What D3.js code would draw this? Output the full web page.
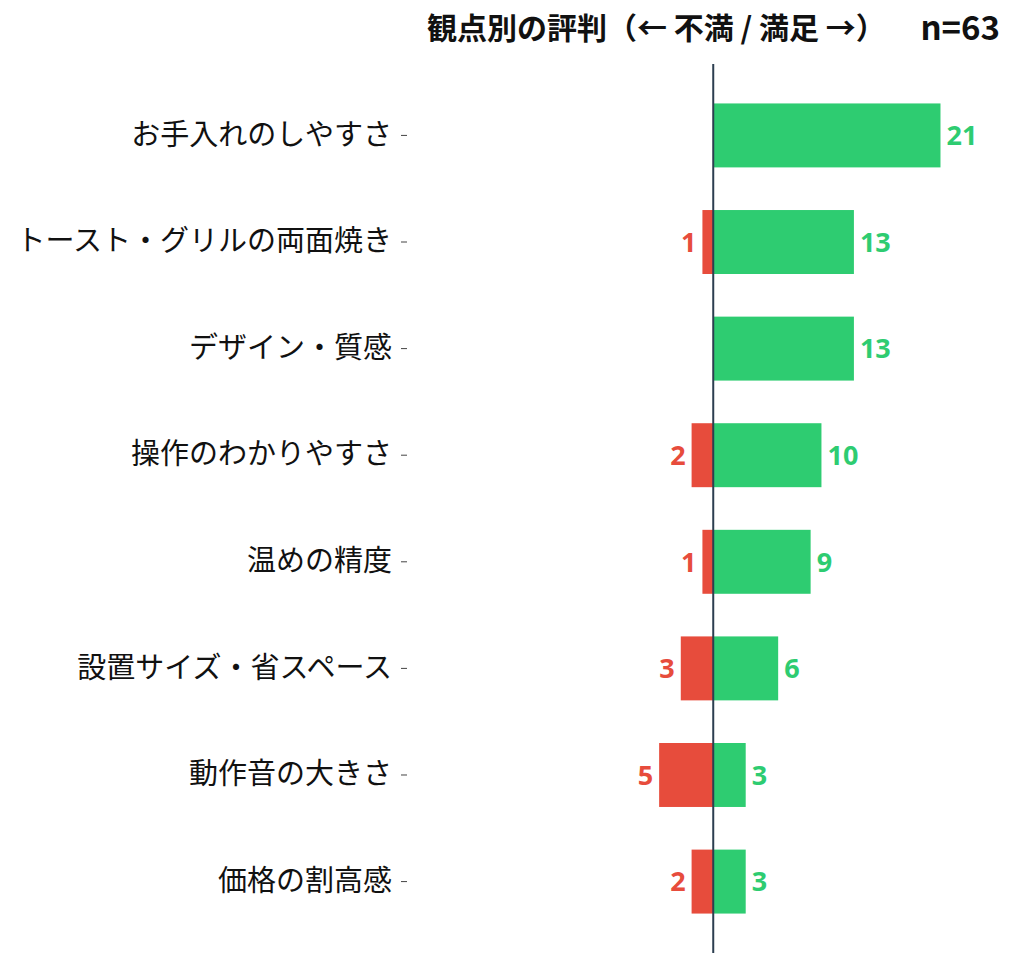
<!DOCTYPE html>
<html>
<head>
<meta charset="utf-8">
<script src="https://cdn.jsdelivr.net/npm/d3@7"></script>
<style>
  body { margin: 0; background: #fff; }
  svg { display: block; }
  .axis.y text { font-family: "Noto Sans CJK JP", sans-serif; font-size: 29px; fill: #111; }
  .axis.y line { stroke: #444; }
  .axis.y .domain { display: none; }
  .value { font-family: "Noto Sans", "DejaVu Sans", sans-serif; font-weight: 700; font-size: 27px; }
  .title { font-family: "Noto Sans CJK JP", sans-serif; font-weight: 700; font-size: 30px; fill: #111; }
</style>
</head>
<body>
<svg id="chart"></svg>
<script>
var aspects = ['お手入れのしやすさ', 'トースト・グリルの両面焼き', 'デザイン・質感', '操作のわかりやすさ',
  '温めの精度', '設置サイズ・省スペース', '動作音の大きさ', '価格の割高感'];
var satisfied = [21, 13, 13, 10, 9, 6, 3, 3];
var dissatisfied = [0, 1, 0, 2, 1, 3, 5, 2];
var titleText = '観点別の評判（← 不満 / 満足 →）';
var sampleText = 'n=63';

document.addEventListener('DOMContentLoaded', () => {
  var size = { width: 1035, height: 969, margin: { top: 64, right: 35, bottom: 16, left: 407 } };
  var margin = size.margin;
  var width = size.width - margin.left - margin.right;
  var height = size.height - margin.top - margin.bottom;

  var data = aspects.map((a, i) => ({ aspect: a, pos: satisfied[i], neg: dissatisfied[i] }));

  var x = d3.scaleLinear()
    .domain([-28.3, 26.5])
    .range([0, width]);

  var y = d3.scaleBand()
    .domain(aspects)
    .range([0, height])
    .paddingInner(0.4)
    .paddingOuter(0.37);

  var svg = d3.select('#chart')
    .attr('width', size.width)
    .attr('height', size.height);

  var chart = svg.append('g')
    .attr('transform', `translate(${ margin.left }, ${ margin.top })`);

  chart.selectAll('.bar.positive')
    .data(data)
    .enter().append('rect')
      .attr('class', 'bar positive')
      .attr('x', x(0))
      .attr('y', d => y(d.aspect))
      .attr('width', d => x(d.pos) - x(0))
      .attr('height', y.bandwidth())
      .attr('fill', '#2ecc71');

  chart.selectAll('.bar.negative')
    .data(data.filter(d => d.neg > 0))
    .enter().append('rect')
      .attr('class', 'bar negative')
      .attr('x', d => x(-d.neg))
      .attr('y', d => y(d.aspect))
      .attr('width', d => x(0) - x(-d.neg))
      .attr('height', y.bandwidth())
      .attr('fill', '#e74c3c');

  chart.selectAll('.value.positive')
    .data(data)
    .enter().append('text')
      .attr('class', 'value positive')
      .attr('x', d => x(d.pos) + 6)
      .attr('y', d => y(d.aspect) + y.bandwidth() / 2)
      .attr('dy', '0.36em')
      .attr('fill', '#2ecc71')
      .text(d => d.pos);

  chart.selectAll('.value.negative')
    .data(data.filter(d => d.neg > 0))
    .enter().append('text')
      .attr('class', 'value negative')
      .attr('x', d => x(-d.neg) - 6)
      .attr('y', d => y(d.aspect) + y.bandwidth() / 2)
      .attr('dy', '0.36em')
      .attr('text-anchor', 'end')
      .attr('fill', '#e74c3c')
      .text(d => d.neg);

  // zero line
  chart.append('line')
    .attr('x1', x(0)).attr('x2', x(0))
    .attr('y1', 0).attr('y2', height)
    .attr('stroke', '#2c3e50')
    .attr('stroke-width', 2);

  chart.append('g')
    .attr('class', 'axis y')
    .call(d3.axisLeft(y).tickSize(6).tickPadding(9));

  svg.append('text')
    .attr('class', 'title')
    .attr('x', 427)
    .attr('y', 39)
    .text(titleText);

  svg.append('text')
    .attr('class', 'title')
    .attr('x', 1000)
    .attr('y', 40)
    .attr('text-anchor', 'end')
    .style('font-size', '33px')
    .text(sampleText);
});
</script>
</body>
</html>
